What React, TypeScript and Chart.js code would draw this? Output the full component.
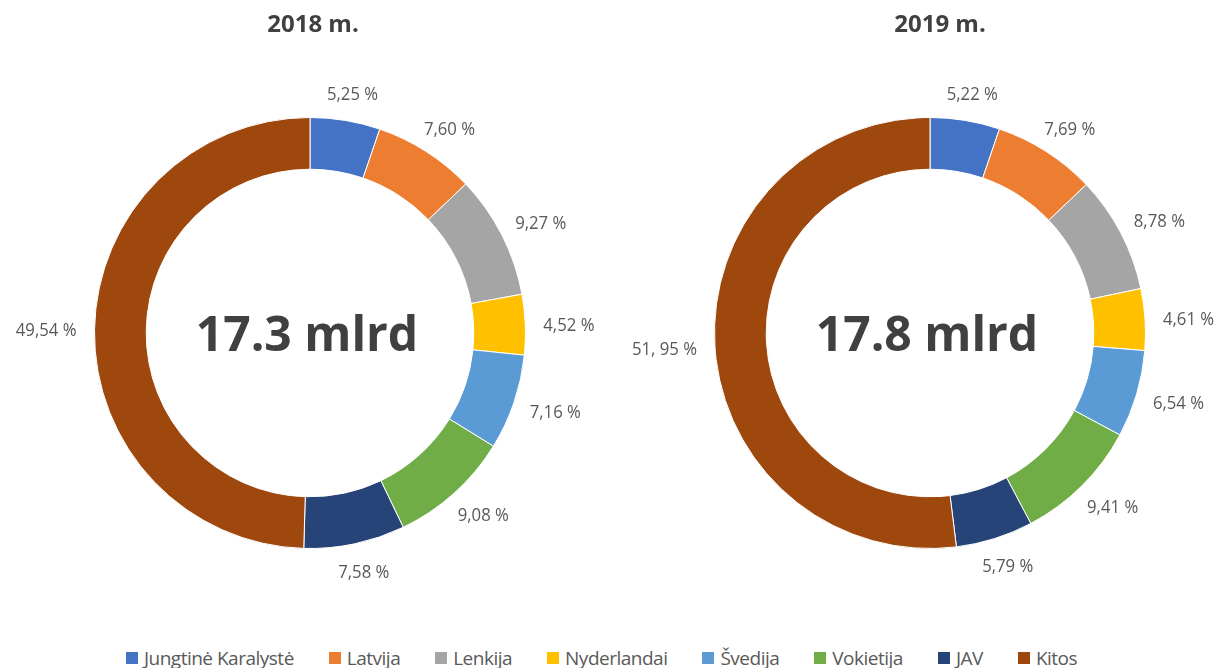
import React, { useEffect, useRef } from "react";
import { Chart, registerables } from "chart.js";
Chart.register(...registerables);

const categories = ["Jungtinė Karalystė", "Latvija", "Lenkija", "Nyderlandai", "Švedija", "Vokietija", "JAV", "Kitos"];
const colors = ["#4472C4", "#ED7D31", "#A5A5A5", "#FFC000", "#5B9BD5", "#70AD47", "#264478", "#9E480E"];
const values2018 = [5.25, 7.6, 9.27, 4.52, 7.16, 9.08, 7.58, 49.54];
const values2019 = [5.22, 7.69, 8.78, 4.61, 6.54, 9.41, 5.79, 51.95];
const labels2018 = ["5,25 %", "7,60 %", "9,27 %", "4,52 %", "7,16 %", "9,08 %", "7,58 %", "49,54 %"];
const labels2019 = ["5,22 %", "7,69 %", "8,78 %", "4,61 %", "6,54 %", "9,41 %", "5,79 %", "51, 95 %"];
const titles = ["2018 m.", "2019 m."];
const totals = ["17.3 mlrd", "17.8 mlrd"];

const FONT = "'Open Sans', sans-serif";

function makePlugin(title: string, total: string, labels: string[], titleShift: number) {
  return {
    id: "decor",
    afterDatasetsDraw(chart: any) {
      const ctx = chart.ctx as CanvasRenderingContext2D;
      const meta = chart.getDatasetMeta(0);
      const a0 = meta.data[0].getProps(["x", "y", "outerRadius"], true);
      const x = a0.x, y = a0.y;
      ctx.save();
      // title
      ctx.fillStyle = "#404040";
      ctx.font = `bold 24px ${FONT}`;
      ctx.textAlign = "center";
      ctx.textBaseline = "alphabetic";
      ctx.fillText(title, x + titleShift, chart.chartArea.top - 85);
      // center total
      ctx.font = `bold 48px ${FONT}`;
      ctx.fillText(total, x - 3, y + 18);
      // outside labels
      const sx = 0.88;
      const h = 14;
      const hb = 20;
      ctx.font = `19px ${FONT}`;
      ctx.fillStyle = "#595959";
      meta.data.forEach((arc: any, i: number) => {
        const p = arc.getProps(["startAngle", "endAngle", "outerRadius"], true);
        const mid = (p.startAngle + p.endAngle) / 2;
        const ux = Math.cos(mid), uy = Math.sin(mid);
        const w = ctx.measureText(labels[i]).width * sx;
        const cx = x + ux * (p.outerRadius + 18) + (ux * w) / 2;
        const cy = y + uy * (p.outerRadius + 18) + (uy * hb) / 2;
        ctx.save();
        ctx.translate(cx, cy + h / 2);
        ctx.scale(sx, 1);
        ctx.textAlign = "center";
        ctx.fillText(labels[i], 0, 0);
        ctx.restore();
      });
      ctx.restore();
    },
  };
}

function Donut(props: { values: number[]; labels: string[]; title: string; total: string; left: number; width: number; padLeft: number; padRight: number; titleShift: number }) {
  const ref = useRef<HTMLCanvasElement>(null);
  useEffect(() => {
    const chart = new Chart(ref.current!, {
      type: "doughnut",
      data: {
        labels: categories,
        datasets: [
          {
            data: props.values,
            backgroundColor: colors,
            borderColor: "#ffffff",
            borderWidth: 1,
          },
        ],
      },
      options: {
        responsive: false,
        animation: false,
        cutout: "76%",
        layout: { padding: { left: props.padLeft, right: props.padRight, top: 117, bottom: 91 } },
        plugins: { legend: { display: false }, tooltip: { enabled: false }, title: { display: false } },
      },
      plugins: [makePlugin(props.title, props.total, props.labels, props.titleShift)],
    });
    return () => chart.destroy();
  }, []);
  return (
    <canvas
      ref={ref}
      width={props.width}
      height={640}
      style={{ position: "absolute", left: props.left, top: 0, width: props.width, height: 640 }}
    />
  );
}

export default function App() {
  return (
    <div style={{ position: "fixed", left: 0, top: 0, width: 1217, height: 668, background: "#fff", overflow: "hidden" }}>
      <Donut values={values2018} labels={labels2018} title={titles[0]} total={totals[0]} left={0} width={620} padLeft={94} padRight={94} titleShift={3} />
      <Donut values={values2019} labels={labels2019} title={titles[1]} total={totals[1]} left={620} width={597} padLeft={94} padRight={71} titleShift={10} />
      <div
        style={{
          position: "absolute",
          top: 644,
          left: 0,
          width: 1203,
          height: 28,
          display: "flex",
          justifyContent: "center",
          alignItems: "center",
          gap: 35,
          fontFamily: FONT,
          fontSize: 19,
          letterSpacing: "-0.5px",
          color: "#595959",
        }}
      >
        {categories.map((c, i) => (
          <div key={c} style={{ display: "flex", alignItems: "center", height: 28, whiteSpace: "nowrap" }}>
            <span style={{ display: "inline-block", width: 12, height: 12, background: colors[i], marginRight: 6 }} />
            <span style={{ lineHeight: "28px" }}>{c}</span>
          </div>
        ))}
      </div>
    </div>
  );
}
